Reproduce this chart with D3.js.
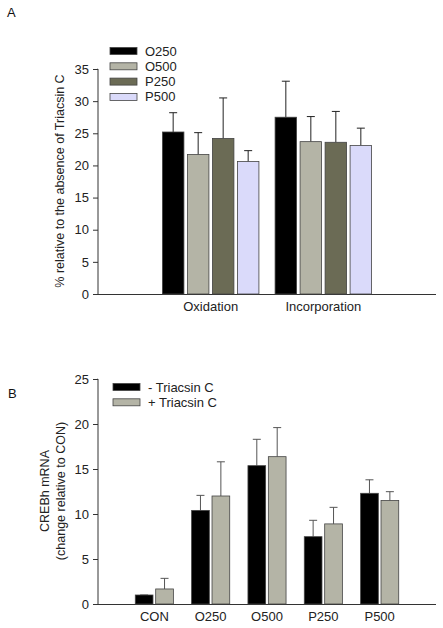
<!DOCTYPE html>
<html><head><meta charset="utf-8">
<script src="https://cdn.jsdelivr.net/npm/d3@7"></script>
<style>body{margin:0;background:#fff}svg{display:block;font-family:"Liberation Sans",Arial,sans-serif}</style>
</head><body>
<svg id="c" width="443" height="628"></svg>
<script>
// Panel A data
const groupsA = ["Oxidation", "Incorporation"];
const seriesA = ["O250", "O500", "P250", "P500"];
const colorsA = ["#000000", "#b4b4a6", "#6b6b55", "#dadafa"];
const valuesA = [[25.2, 21.7, 24.2, 20.6], [27.5, 23.7, 23.6, 23.1]];
const errTopA = [[28.2, 25.1, 30.5, 22.3], [33.1, 27.6, 28.4, 25.8]];
const ticksA = [0, 5, 10, 15, 20, 25, 30, 35];
const yLabelA = "% relative to the absence of Triacsin C";

// Panel B data
const groupsB = ["CON", "O250", "O500", "P250", "P500"];
const seriesB = ["- Triacsin C", "+ Triacsin C"];
const colorsB = ["#000000", "#b4b4a6"];
const valuesB = [[1.0, 1.67], [10.4, 12.0], [15.37, 16.37], [7.48, 8.9], [12.3, 11.5]];
const errTopB = [[1.0, 2.85], [12.07, 15.8], [18.3, 19.6], [9.3, 10.74], [13.8, 12.48]];
const ticksB = [0, 5, 10, 15, 20, 25];
const yLabelB = ["CREBh mRNA", "(change relative to CON)"];

const svg = d3.select("#c");

function panel(cfg) {
  const g = svg.append("g");
  const x = d3.scaleLinear().domain([0, cfg.groups.length + 1]).range([98, 436]);
  const y = d3.scaleLinear().domain([0, cfg.ymax]).range([cfg.y0, cfg.ytop]);
  // axes
  const ya = g.append("g").attr("transform", "translate(98,0)")
    .call(d3.axisLeft(y).tickValues(cfg.ticks).tickSize(5).tickPadding(4));
  ya.select(".domain").attr("stroke", "#333").attr("d", `M-0.5,${cfg.ytop}H0V${cfg.y0}`);
  ya.selectAll(".tick line").attr("stroke", "#333");
  ya.selectAll("text").attr("font-size", 13).attr("fill", "#222")
    .attr("font-family", "Liberation Sans, Arial, sans-serif");
  g.append("line").attr("x1", 98).attr("x2", 436).attr("y1", cfg.y0 + 0.5).attr("y2", cfg.y0 + 0.5)
    .attr("stroke", "#333");
  const n = cfg.series.length;
  const step = cfg.bw + cfg.gap;
  cfg.groups.forEach((grp, i) => {
    const cx = x(i + 1);
    cfg.series.forEach((s, j) => {
      const bx = cx - (n * step - cfg.gap) / 2 + j * step;
      const v = cfg.values[i][j], e = cfg.err[i][j];
      g.append("line").attr("x1", bx + cfg.bw / 2).attr("x2", bx + cfg.bw / 2)
        .attr("y1", y(v)).attr("y2", y(e)).attr("stroke", cfg.errColor).attr("stroke-width", 1);
      g.append("line").attr("x1", bx + cfg.bw / 2 - 4).attr("x2", bx + cfg.bw / 2 + 4)
        .attr("y1", y(e)).attr("y2", y(e)).attr("stroke", cfg.errColor).attr("stroke-width", 1);
      g.append("rect").attr("x", bx).attr("y", y(v)).attr("width", cfg.bw).attr("height", y(0) - y(v))
        .attr("fill", cfg.colors[j]).attr("stroke", "#444").attr("stroke-width", 0.8);
    });
    g.append("text").attr("x", cx).attr("y", cfg.y0 + cfg.xlabDy).attr("text-anchor", "middle")
      .attr("font-size", 13).attr("fill", "#222").text(grp);
  });
  // legend
  cfg.series.forEach((s, j) => {
    const ly = cfg.legY + j * cfg.legStep;
    g.append("rect").attr("x", cfg.legX).attr("y", ly - 3.5).attr("width", 27).attr("height", 7)
      .attr("fill", cfg.colors[j]).attr("stroke", "#444").attr("stroke-width", 0.8);
    g.append("text").attr("x", cfg.legX + 35).attr("y", ly + 4.5).attr("font-size", 13)
      .attr("fill", "#222").text(s);
  });
  // panel letter
  g.append("text").attr("x", cfg.letX).attr("y", cfg.letY).attr("font-size", 13).attr("fill", "#111").text(cfg.letter);
  return g;
}

const gA = panel({groups: groupsA, series: seriesA, colors: colorsA, values: valuesA, err: errTopA,
  ymax: 35, ticks: ticksA, y0: 294, ytop: 69, bw: 21.5, gap: 3.5, errColor: "#222",
  xlabDy: 17, legX: 110, legY: 51, legStep: 15.3, letter: "A", letX: 7, letY: 17});
gA.append("text").attr("transform", "translate(64,181) rotate(-90)").attr("text-anchor", "middle")
  .attr("font-size", 12.5).attr("fill", "#222").text(yLabelA);

const gB = panel({groups: groupsB, series: seriesB, colors: colorsB, values: valuesB, err: errTopB,
  ymax: 25, ticks: ticksB, y0: 604, ytop: 379, bw: 17.7, gap: 2.7, errColor: "#555",
  xlabDy: 17, legX: 113, legY: 387, legStep: 15.3, letter: "B", letX: 8, letY: 398});
gB.append("text").attr("transform", "translate(0,491) rotate(-90)").attr("text-anchor", "middle")
  .attr("font-size", 12.5).attr("fill", "#222")
  .selectAll("tspan").data(yLabelB).join("tspan")
  .attr("x", 0).attr("y", (d, i) => 49 + i * 16).text(d => d);
</script>
</body></html>
